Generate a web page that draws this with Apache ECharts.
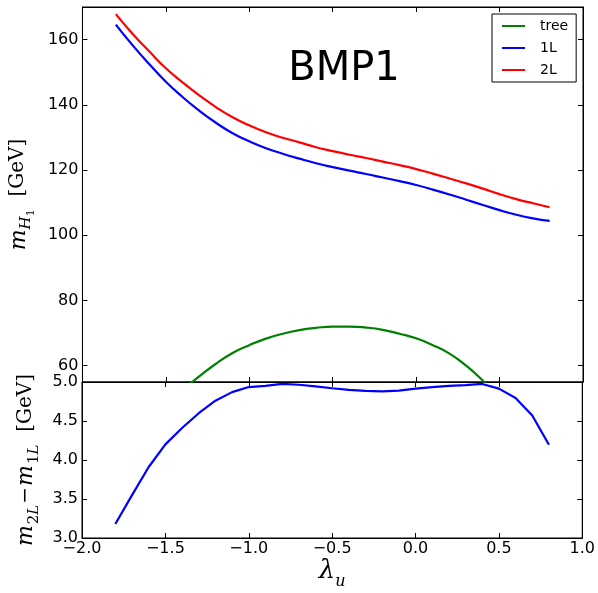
<!DOCTYPE html>
<html><head><meta charset="utf-8">
<script src="https://cdn.jsdelivr.net/npm/echarts@6/dist/echarts.min.js"></script>
<style>html,body{margin:0;padding:0;background:#fff}#c{width:598px;height:593px}</style>
</head><body><div id="c"></div>
<script>
// ---- data ----
const lambdaU = [-1.8,-1.7,-1.6,-1.5,-1.4,-1.3,-1.2,-1.1,-1.0,-0.9,-0.8,-0.7,-0.6,-0.5,-0.4,-0.3,-0.2,-0.1,0.0,0.1,0.2,0.3,0.4,0.5,0.6,0.7,0.8];
const m1L = [164.6,158.3,152.5,147.1,142.4,138.2,134.5,131.3,128.8,126.7,125.0,123.5,122.1,120.9,119.8,118.8,117.7,116.6,115.4,114.0,112.5,110.9,109.3,107.7,106.3,105.2,104.4];
const m2L = [167.8,161.8,156.4,151.2,146.9,142.9,139.3,136.2,133.7,131.6,129.9,128.5,127.0,125.8,124.7,123.7,122.6,121.5,120.3,118.9,117.4,115.9,114.3,112.6,111.1,109.8,108.6];
const treeLambda = [-1.4,-1.3,-1.2,-1.1,-1.0,-0.9,-0.8,-0.7,-0.6,-0.5,-0.4,-0.3,-0.2,-0.1,0.0,0.1,0.2,0.3,0.4,0.5];
const mTree = [52.5,56.7,60.6,63.9,66.3,68.3,69.8,70.9,71.6,72.0,72.0,71.7,71.0,69.8,68.4,66.3,63.7,60.0,55.4,50.0];
const dm = [3.18,3.55,3.91,4.20,4.41,4.60,4.76,4.87,4.935,4.95,4.975,4.965,4.945,4.92,4.90,4.885,4.88,4.89,4.915,4.935,4.95,4.96,4.975,4.915,4.795,4.57,4.196];
const xTicks = [-2.0,-1.5,-1.0,-0.5,0.0,0.5,1.0];
const yTicksTop = [60,80,100,120,140,160];
const yTicksBottom = [3.0,3.5,4.0,4.5,5.0];
const seriesNames = ['tree','1L','2L'];
const panelTitle = 'BMP1';

// ---- chart ----
const chart = echarts.init(document.getElementById('c'), null, {renderer:'canvas'});
const SANS = 'DejaVu Sans', SERIF = 'DejaVu Serif';
const fmt1 = v => Number(v).toFixed(1).replace('-', '\u2212');
const tick = vals => ({show:true, inside:true, length:5, customValues: vals, lineStyle:{color:'#000', width:1}});
const line = {show:true, onZero:false, lineStyle:{color:'#000', width:1}};
const lab = {fontFamily:SANS, fontSize:16, color:'#000'};

function xAx(grid, pos, showLabel, extra) {
  return Object.assign({
    type:'value', gridIndex:grid, position:pos, min:-2, max:1, interval:0.5,
    axisLine:line, axisTick:tick(xTicks), splitLine:{show:false},
    axisLabel: Object.assign({show:showLabel, margin:3, customValues:xTicks, formatter:fmt1}, lab)
  }, extra || {});
}
function yAx(grid, pos, mn, mx, ticks, showLabel, formatter, extra) {
  return Object.assign({
    type:'value', gridIndex:grid, position:pos, min:mn, max:mx,
    axisLine:line, axisTick:tick(ticks), splitLine:{show:false},
    axisLabel: Object.assign({show:showLabel, margin:4, customValues:ticks, formatter:formatter}, lab)
  }, extra || {});
}
const rich = {
  m:{fontFamily:SERIF, fontStyle:'italic', fontSize:22, lineHeight:24, verticalAlign:'top', color:'#000'},
  si:{fontFamily:SERIF, fontStyle:'italic', fontSize:15, lineHeight:15, padding:[11,0,0,0], verticalAlign:'top', color:'#000'},
  s:{fontFamily:SERIF, fontSize:15, lineHeight:15, padding:[11,0,0,1], verticalAlign:'top', color:'#000'},
  ss:{fontFamily:SERIF, fontSize:11, lineHeight:11, padding:[18,0,0,0], verticalAlign:'top', color:'#000'},
  o:{fontFamily:SERIF, fontSize:20, lineHeight:24, verticalAlign:'top', color:'#000', padding:[0,1,0,1]},
  g:{fontFamily:SERIF, fontSize:20, lineHeight:24, verticalAlign:'top', color:'#000'},
  l:{fontFamily:SERIF, fontStyle:'italic', fontSize:26, lineHeight:28, verticalAlign:'top', color:'#000'},
  lu:{fontFamily:SERIF, fontStyle:'italic', fontSize:16, lineHeight:16, padding:[16,0,0,0], verticalAlign:'top', color:'#000'}
};

const option = {
  animation:false,
  backgroundColor:'#fff',
  grid:[
    {left:82, right:15, top:7, height:375, show:true, borderColor:'#000', borderWidth:1, backgroundColor:'transparent'},
    {left:82, right:15, top:382, height:156, show:true, borderColor:'#000', borderWidth:1, backgroundColor:'transparent'}
  ],
  xAxis:[
    xAx(0,'bottom',false),
    xAx(0,'top',false),
    xAx(1,'bottom',true,{name:'{l|\u03bb}{lu|u}', nameLocation:'middle', nameGap:16, nameTextStyle:{rich:rich}}),
    xAx(1,'top',false)
  ],
  yAxis:[
    yAx(0,'left',55,170,yTicksTop,true,v=>String(v),{name:'{m|m}{si|H}{ss|1}{g|  [GeV]}', nameLocation:'middle', nameRotate:90, nameGap:37, nameTextStyle:{rich:rich}}),
    yAx(0,'right',55,170,yTicksTop,false),
    yAx(1,'left',3,5,yTicksBottom,true,fmt1,{name:'{m|m}{s|2}{si|L}{o|\u2212}{m|m}{s|1}{si|L}{g|  [GeV]}', nameLocation:'middle', nameRotate:90, nameGap:32, nameTextStyle:{rich:rich}}),
    yAx(1,'right',3,5,yTicksBottom,false)
  ],
  legend:{
    data:seriesNames, orient:'vertical', left:492, top:14, icon:'rect',
    itemWidth:23, itemHeight:2, itemGap:8, padding:[5,8,5,10],
    borderColor:'#000', borderWidth:1, borderRadius:0, backgroundColor:'#fff',
    textStyle:{fontFamily:SANS, fontSize:14, color:'#000', padding:[0,0,0,10]}
  },
  graphic:[{type:'text', x:344, y:70, z:100, style:{text:panelTitle, font:'40px "DejaVu Sans"', fill:'#000', textAlign:'center', textVerticalAlign:'middle'}}],
  series:[
    {name:seriesNames[0], type:'line', xAxisIndex:0, yAxisIndex:0, symbol:'none', smooth:0.5, clip:true,
     color:'#008000', lineStyle:{width:2.2, color:'#008000'}, data:treeLambda.map((x,i)=>[x,mTree[i]])},
    {name:seriesNames[1], type:'line', xAxisIndex:0, yAxisIndex:0, symbol:'none', smooth:0.5, clip:true,
     color:'#0000ff', lineStyle:{width:2.2, color:'#0000ff'}, data:lambdaU.map((x,i)=>[x,m1L[i]])},
    {name:seriesNames[2], type:'line', xAxisIndex:0, yAxisIndex:0, symbol:'none', smooth:0.5, clip:true,
     color:'#ff0000', lineStyle:{width:2.2, color:'#ff0000'}, data:lambdaU.map((x,i)=>[x,m2L[i]])},
    {name:'2L-1L', type:'line', xAxisIndex:2, yAxisIndex:2, symbol:'none', clip:true,
     color:'#0000ff', lineStyle:{width:2.2, color:'#0000ff'}, data:lambdaU.map((x,i)=>[x,dm[i]])}
  ]
};
chart.setOption(option);
</script></body></html>
